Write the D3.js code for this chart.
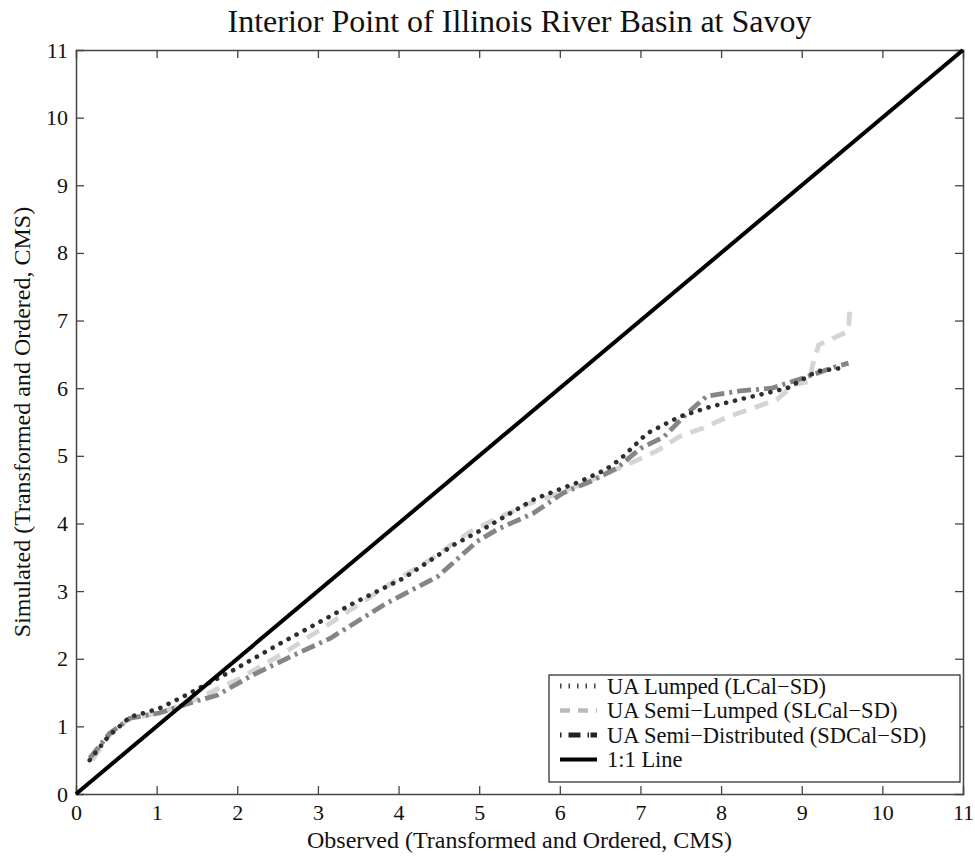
<!DOCTYPE html>
<html><head><meta charset="utf-8">
<script src="https://cdn.jsdelivr.net/npm/d3@7"></script>
<style>body{margin:0;background:#fff}svg{display:block}text{font-family:"Liberation Serif","Times New Roman",serif;fill:#111}</style>
</head><body><svg id="c" width="975" height="858"></svg>
<script>
const title = "Interior Point of Illinois River Basin at Savoy";
const xLabel = "Observed (Transformed and Ordered, CMS)";
const yLabel = "Simulated (Transformed and Ordered, CMS)";
const tickValues = [0,1,2,3,4,5,6,7,8,9,10,11];

const lumpedX = [0.17,0.4,0.67,0.85,1.04,1.33,1.95,2.57,3.11,3.44,4.06,4.68,5.10,5.67,5.92,6.25,6.56,6.75,7.08,7.29,7.49,7.85,8.22,8.82,9.19,9.5];
const lumpedY = [0.5,0.85,1.14,1.2,1.27,1.44,1.83,2.25,2.6,2.82,3.19,3.68,3.95,4.35,4.47,4.62,4.79,4.95,5.33,5.46,5.58,5.72,5.83,6.0,6.25,6.3];

const semiLumpedX = [0.2,0.42,0.67,1.04,1.45,2.03,2.57,3.03,3.94,4.39,4.89,5.18,5.59,6.0,6.58,6.91,7.2,7.49,7.78,8.07,8.38,8.69,8.9,9.1,9.13,9.21,9.5,9.58,9.6];
const semiLumpedY = [0.5,0.88,1.12,1.2,1.38,1.71,2.08,2.43,3.14,3.46,3.88,4.05,4.28,4.45,4.74,4.91,5.07,5.29,5.41,5.57,5.70,5.83,6.05,6.1,6.32,6.64,6.8,6.85,7.25];

const semiDistX = [0.17,0.42,0.67,1.04,1.45,1.75,2.16,2.66,3.15,3.85,4.48,4.97,5.22,5.67,6.04,6.38,6.71,7.0,7.29,7.58,7.82,8.24,8.63,9.02,9.4,9.58];
const semiDistY = [0.53,0.9,1.12,1.2,1.36,1.46,1.74,2.03,2.3,2.82,3.21,3.73,3.91,4.15,4.45,4.62,4.82,5.11,5.28,5.63,5.88,5.96,6.0,6.15,6.31,6.37];

const series = [
  {name:"UA Lumped (LCal\u2212SD)", xs:lumpedX, ys:lumpedY, color:"#2e2e2e", width:4.6, dash:"0.1,9", cap:"round", lDash:"1.5,7", lWidth:5, lCap:"butt", lColor:"#444"},
  {name:"UA Semi\u2212Lumped (SLCal\u2212SD)", xs:semiLumpedX, ys:semiLumpedY, color:"#d4d4d4", width:4.8, dash:"14,9", cap:"butt", lDash:"10,8", lWidth:4.5, lCap:"butt", lColor:"#bbb"},
  {name:"UA Semi\u2212Distributed (SDCal\u2212SD)", xs:semiDistX, ys:semiDistY, color:"#858585", width:4.8, dash:"14,5,3,5", cap:"butt", lDash:"1.5,7,12,7,1.5", lWidth:5, lCap:"butt", lColor:"#222"}
];

const W=975,H=858, m={l:76,t:50,r:12,b:64};
const svg=d3.select("#c");
const x=d3.scaleLinear().domain([0,11]).range([m.l,W-m.r]);
const y=d3.scaleLinear().domain([0,11]).range([H-m.b,m.t]);

const axCol="#444";
const fmt=d3.format("d");
const gB=svg.append("g").attr("transform",`translate(0,${H-m.b})`).call(d3.axisBottom(x).tickValues(tickValues).tickSize(-8).tickPadding(10).tickFormat(fmt));
const gT=svg.append("g").attr("transform",`translate(0,${m.t})`).call(d3.axisTop(x).tickValues(tickValues).tickSize(-8).tickFormat(""));
const gL=svg.append("g").attr("transform",`translate(${m.l},0)`).call(d3.axisLeft(y).tickValues(tickValues).tickSize(-8).tickPadding(8).tickFormat(fmt));
const gR=svg.append("g").attr("transform",`translate(${W-m.r},0)`).call(d3.axisRight(y).tickValues(tickValues).tickSize(-8).tickFormat(""));
[gB,gT,gL,gR].forEach(g=>{
  g.select(".domain").attr("stroke",axCol).attr("stroke-width",1.5);
  g.selectAll(".tick line").attr("stroke",axCol).attr("stroke-width",1.3);
  g.selectAll("text").attr("font-size",22).style("font-family",'"Liberation Serif",serif').attr("fill","#111");
  g.selectAll(".tick").filter(d=>d===0||d===11).select("line").remove();
});

const lineLin=d3.line().x(d=>x(d[0])).y(d=>y(d[1]));
[series[1],series[2],series[0]].forEach(s=>{
  const pts=s.xs.map((v,i)=>[v,s.ys[i]]);
  svg.append("path").attr("d",lineLin(pts)).attr("fill","none").attr("stroke",s.color)
    .attr("stroke-width",s.width).attr("stroke-dasharray",s.dash).attr("stroke-linecap",s.cap).attr("stroke-linejoin","round");
});
svg.append("path").attr("d",lineLin([[0,0],[11,11]])).attr("stroke","#000").attr("stroke-width",4).attr("fill","none");

// legend
const lg=svg.append("g");
const lx=549, ly=675, lw=411, lh=107;
lg.append("rect").attr("x",lx).attr("y",ly).attr("width",lw).attr("height",lh).attr("fill","#fff").attr("stroke","#222").attr("stroke-width",1.2);
const entries=[...series,{name:"1:1 Line",color:"#000",lWidth:4,lDash:null}];
entries.forEach((s,i)=>{
  const yy=ly+11+i*24.5;
  lg.append("line").attr("x1",lx+11).attr("x2",lx+48).attr("y1",yy).attr("y2",yy)
    .attr("stroke",s.lColor||s.color).attr("stroke-width",s.lWidth).attr("stroke-dasharray",s.lDash);
  lg.append("text").attr("x",lx+58).attr("y",yy).attr("dy","0.35em").attr("font-size",22.5).text(s.name);
});

svg.append("text").attr("x",(m.l+W-m.r)/2).attr("y",32).attr("text-anchor","middle").attr("font-size",32).text(title);
svg.append("text").attr("x",(m.l+W-m.r)/2).attr("y",848).attr("text-anchor","middle").attr("font-size",24).text(xLabel);
svg.append("text").attr("transform",`translate(30,${(m.t+H-m.b)/2}) rotate(-90)`).attr("text-anchor","middle").attr("font-size",24).text(yLabel);
</script></body></html>
